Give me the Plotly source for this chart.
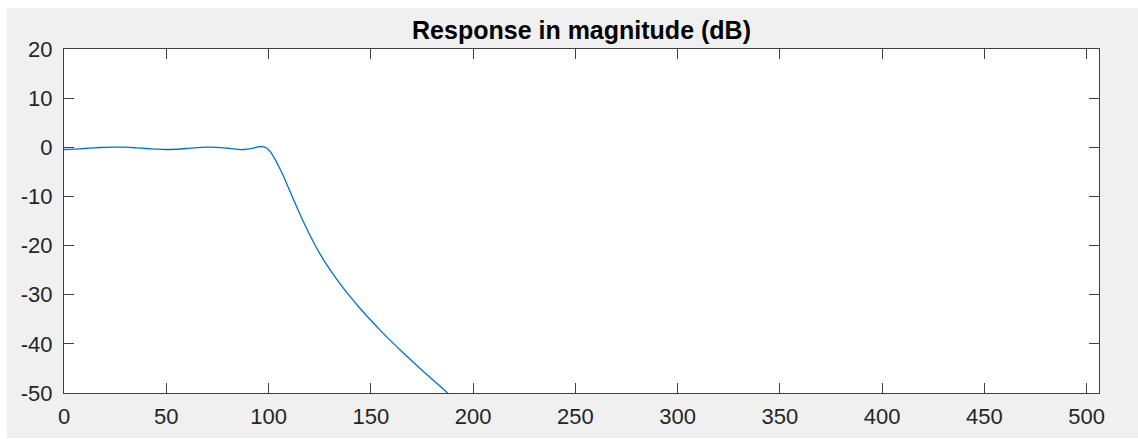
import plotly.graph_objects as go

freq = [0, 5, 10, 15, 20, 25, 30, 35, 40, 45, 50, 55, 60, 65, 70, 75, 80, 85, 88, 92, 95, 97,
        99, 101, 103, 105, 107, 110, 113, 116, 120, 125, 130, 135, 140, 145, 150, 155, 160,
        165, 170, 175, 180, 185, 190, 195]
mag_db = [-0.45, -0.38, -0.25, -0.1, 0.0, 0.05, 0.02, -0.1, -0.25, -0.38, -0.45, -0.4, -0.25,
          -0.05, 0.05, 0.0, -0.2, -0.42, -0.45, -0.2, 0.1, 0.15,
          -0.15, -1.0, -2.3, -3.9, -5.6, -8.5, -11.4, -14.2, -17.7, -21.6, -24.9, -27.8, -30.45,
          -32.9, -35.2, -37.4, -39.5, -41.5, -43.45, -45.35, -47.2, -49.05, -50.9, -52.7]

x_ticks = [0, 50, 100, 150, 200, 250, 300, 350, 400, 450, 500]
y_ticks = [20, 10, 0, -10, -20, -30, -40, -50]
title_text = "Response in magnitude (dB)"

axis_col = "#404040"
font_col = "#262626"
fam = "Liberation Sans, Arial, Helvetica, sans-serif"

fig = go.Figure()
fig.add_trace(go.Scatter(x=freq, y=mag_db, mode="lines",
                         line=dict(color="#0072BD", width=1.3, shape="spline", smoothing=0.6),
                         hoverinfo="skip", showlegend=False))

# MATLAB grey figure background with thin white border, white axes area
fig.add_shape(type="rect", xref="paper", yref="paper",
              x0=(7 - 64) / 1035, x1=(1138 - 64) / 1035,
              y0=(393 - 438) / 344, y1=(393 - 8) / 344,
              fillcolor="#f0f0f0", line=dict(width=0), layer="below")
fig.add_shape(type="rect", xref="paper", yref="paper", x0=0, x1=1, y0=0, y1=1,
              fillcolor="white", line=dict(width=0), layer="below")

axis_common = dict(showline=True, linecolor=axis_col, linewidth=1, mirror="ticks",
                   ticks="inside", ticklen=10, tickcolor=axis_col, tickwidth=1,
                   showgrid=False, zeroline=False,
                   tickfont=dict(family=fam, size=22, color=font_col))

fig.update_xaxes(range=[0, 506], tickvals=x_ticks, ticktext=[str(v) for v in x_ticks],
                 ticklabelstandoff=4, **axis_common)
fig.update_yaxes(range=[-50, 20], tickvals=y_ticks, ticktext=[str(v) for v in y_ticks],
                 ticklabelstandoff=6, **axis_common)

fig.update_layout(
    width=1138, height=439,
    margin=dict(l=64, r=39, t=49, b=46, autoexpand=False),
    paper_bgcolor="white", plot_bgcolor="rgba(0,0,0,0)",
    title=dict(text="<b>" + title_text + "</b>", x=0.5, xref="paper", xanchor="center",
               y=1 - 30 / 439, yref="container", yanchor="middle",
               font=dict(family=fam, size=25, color="black")),
)

fig.write_html("out.html")
